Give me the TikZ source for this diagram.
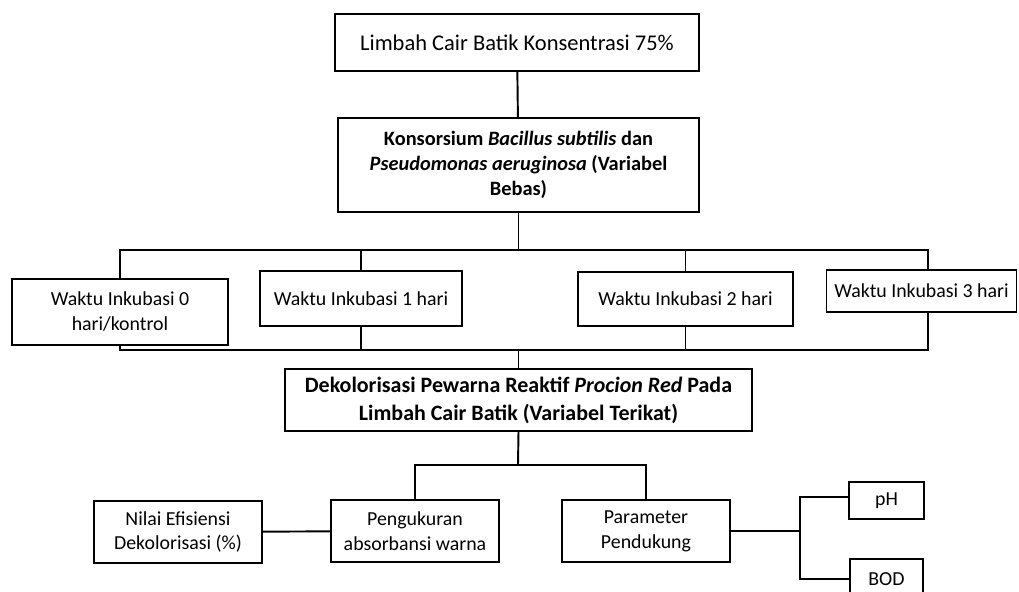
\documentclass[tikz,border=0pt]{standalone}
\usepackage{fontspec}
\setmainfont{Carlito}
\usetikzlibrary{positioning}

\begin{document}
\begin{tikzpicture}[
    x=0.02cm, y=-0.02cm,
    box/.style={rectangle, draw=black, line width=1.1pt, inner sep=0pt, align=center, font=\fontsize{11.3}{14.2}\selectfont},
    boldbox/.style={box, font=\fontsize{11.6}{14.2}\selectfont\bfseries},
    link/.style={line width=1.1pt}
]
\clip (0,0) rectangle (1019,592);

% Input and treatment
\node[box, font=\fontsize{12.8}{15}\selectfont, minimum width=7.28cm, minimum height=1.14cm] (limbah) at (517,42.5) {Limbah Cair Batik Konsentrasi 75\%};
\node[boldbox, minimum width=7.22cm, minimum height=1.88cm] (konsorsium) at (518.5,165) {Konsorsium \textit{Bacillus subtilis} dan\\\textit{Pseudomonas aeruginosa} (Variabel\\Bebas)};

% Incubation times
\node[box, minimum width=4.32cm, minimum height=1.32cm] (waktu0) at (120,312) {Waktu Inkubasi 0\\hari/kontrol};
\node[box, minimum width=4.04cm, minimum height=1.1cm] (waktu1) at (361,298.5) {Waktu Inkubasi 1 hari};
\node[box, minimum width=4.3cm, minimum height=1.08cm] (waktu2) at (685.5,299) {Waktu Inkubasi 2 hari};
\node[box, minimum width=3.8cm, minimum height=0.84cm] (waktu3) at (921.5,291) {Waktu Inkubasi 3 hari};

% Dependent variable
\node[boldbox, font=\fontsize{12.5}{16}\selectfont\bfseries, minimum width=9.34cm, minimum height=1.24cm] (dekolorisasi) at (518.5,400) {Dekolorisasi Pewarna Reaktif \textit{Procion Red} Pada\\Limbah Cair Batik (Variabel Terikat)};

% Measurements
\node[box, minimum width=3.36cm, minimum height=1.24cm] (absorbansi) at (415,531) {Pengukuran\\absorbansi warna};
\node[box, minimum width=3.36cm, minimum height=1.24cm] (efisiensi) at (178,532) {Nilai Efisiensi\\Dekolorisasi (\%)};
\node[box, minimum width=3.36cm, minimum height=1.24cm] (pendukung) at (646,531) {Parameter\\Pendukung};
\node[box, minimum width=1.5cm, minimum height=0.74cm] (ph) at (886.5,500.5) {pH};
\node[box, minimum width=1.46cm, minimum height=0.8cm] (bod) at (886.5,579) {BOD};

% Bus points
\coordinate (topbus) at (928,250);
\coordinate (lowbus) at (928,350);
\coordinate (midbus) at (518,465);
\coordinate (fork) at (800,531);

% Connectors
\draw[link] (limbah) -- (konsorsium);
\draw[link] (konsorsium.south) -- (konsorsium.south |- topbus);
\draw[link] (waktu0.north) |- (topbus) -- (topbus |- waktu3.north);
\draw[link] (waktu1.north) -- (waktu1.north |- topbus);
\draw[link] (waktu2.north) -- (waktu2.north |- topbus);
\draw[link] (waktu0.south) |- (lowbus) -- (lowbus |- waktu3.south);
\draw[link] (waktu1.south) -- (waktu1.south |- lowbus);
\draw[link] (waktu2.south) -- (waktu2.south |- lowbus);
\draw[link] (dekolorisasi) -- (dekolorisasi |- lowbus);
\draw[link] (dekolorisasi.south) -- (midbus);
\draw[link] (absorbansi.north) |- (pendukung.north |- midbus) -- (pendukung.north);
\draw[link] (efisiensi) -- (absorbansi);
\draw[link] (pendukung) -- (fork);
\draw[link] ([yshift=0.07cm]ph.west) -- ([yshift=0.07cm]ph.west -| fork) -- (bod.west -| fork) -- (bod.west);

\end{tikzpicture}
\end{document}
